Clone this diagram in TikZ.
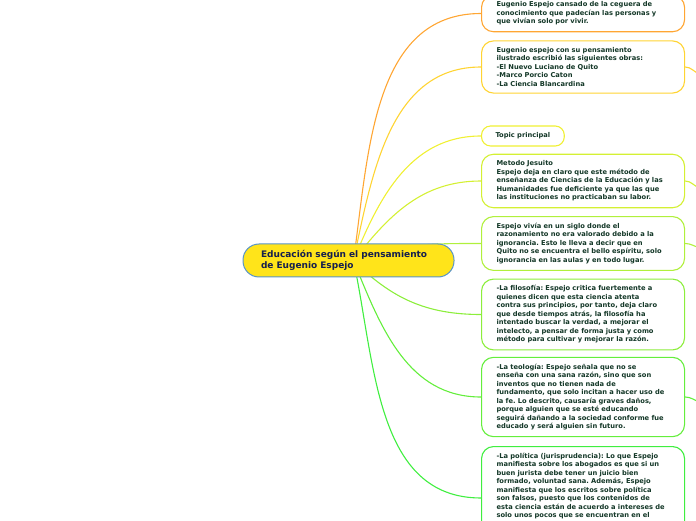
\documentclass[tikz,border=0pt]{standalone}
\usepackage{fontspec}
\setmainfont{DejaVu Sans}
\usetikzlibrary{positioning,backgrounds,calc}
\definecolor{txtgreen}{RGB}{20,56,40}
\definecolor{txtnavy} {RGB}{20,30,78}
\definecolor{cenfill} {RGB}{255,228,26}
\definecolor{cenline} {RGB}{88,148,200}
\definecolor{cOne}    {RGB}{255,166,51}
\definecolor{cTwo}    {RGB}{255,212,51}
\definecolor{cThree}  {RGB}{240,240,51}
\definecolor{cFour}   {RGB}{212,240,51}
\definecolor{cFive}   {RGB}{176,240,60}
\definecolor{cSix}    {RGB}{140,238,60}
\definecolor{cSeven}  {RGB}{100,238,60}
\definecolor{cEight}  {RGB}{64,238,64}
\tikzset{
  cenbox/.style ={draw=cenline, fill=cenfill, line width=1pt,
                  rounded corners=16pt, minimum width=211pt,
                  minimum height=33pt, text width=175pt, inner sep=0pt,
                  align=left, text=txtnavy,
                  font=\fontsize{9}{11}\selectfont\bfseries\frenchspacing},
  subbox/.style ={draw=#1, fill=white, line width=1.1pt,
                  rounded corners=12pt, text width=173pt,
                  inner xsep=15pt, inner ysep=6.5pt, align=left,
                  text=txtgreen, anchor=west,
                  font=\fontsize{6.7}{8.5}\selectfont\bfseries\frenchspacing},
  smallbox/.style={subbox=#1, text width=, rounded corners=9pt,
                  inner xsep=14pt, minimum height=20pt},
  link/.style   ={draw=#1, line width=1.1pt},
}
\begin{document}
\begin{tikzpicture}[x=1pt,y=1pt]
  \useasboundingbox (0,0) rectangle (696,520);
  \node[cenbox] (cen) at (348.5,259.5)
    {Educación según el pensamiento\\de Eugenio Espejo};
  \coordinate (o) at ($(cen.center)+(5,0)$);
  %% branches on the right
  \node[subbox=cOne] (cansado) at (481,506.5)
    {Eugenio Espejo cansado de la ceguera de\\
     conocimiento que padecían las personas y\\
     que vivían solo por vivir.};
  \node[subbox=cTwo] (obras) at (481,453)
    {Eugenio espejo con su pensamiento\\
     ilustrado escribió las siguientes obras:\\
     -El Nuevo Luciano de Quito\\
     -Marco Porcio Caton\\
     -La Ciencia Blancardina};
  \node[smallbox=cThree] (topic) at (481,384) {Topic principal};
  \node[subbox=cFour] (jesuito) at (481,339)
    {Metodo Jesuito\\
     Espejo deja en claro que este método de\\
     enseñanza de Ciencias de la Educación y las\\
     Humanidades fue deficiente ya que las que\\
     las instituciones no practicaban su labor.};
  \node[subbox=cFive] (vivia) at (481,276.5)
    {Espejo vivía en un siglo donde el\\
     razonamiento no era valorado debido a la\\
     ignorancia. Esto le lleva a decir que en\\
     Quito no se encuentra el bello espíritu, solo\\
     ignorancia en las aulas y en todo lugar.};
  \node[subbox=cSix] (filo) at (481,205.5)
    {-La filosofía: Espejo critica fuertemente a\\
     quienes dicen que esta ciencia atenta\\
     contra sus principios, por tanto, deja claro\\
     que desde tiempos atrás, la filosofía ha\\
     intentado buscar la verdad, a mejorar el\\
     intelecto, a pensar de forma justa y como\\
     método para cultivar y mejorar la razón.};
  \node[subbox=cSeven] (teo) at (481,123)
    {-La teología: Espejo señala que no se\\
     enseña con una sana razón, sino que son\\
     inventos que no tienen nada de\\
     fundamento, que solo incitan a hacer uso de\\
     la fe. Lo descrito, causaría graves daños,\\
     porque alguien que se esté educando\\
     seguirá dañando a la sociedad conforme fue\\
     educado y será alguien sin futuro.};
  \node[subbox=cEight, anchor=north west, text depth=90pt] (poli) at (481,74)
    {-La política (jurisprudencia): Lo que Espejo\\
     manifiesta sobre los abogados es que si un\\
     buen jurista debe tener un juicio bien\\
     formado, voluntad sana. Además, Espejo\\
     manifiesta que los escritos sobre política\\
     son falsos, puesto que los contenidos de\\
     esta ciencia están de acuerdo a intereses de\\
     solo unos pocos que se encuentran en el};
  \coordinate (poliin) at ($(poli.north west)+(0,-52)$);
  %% stubs leaving the page
  \coordinate (sobras) at (700,446);
  \coordinate (sjes)   at (700,332);
  \coordinate (sviv)   at (700,272);
  \coordinate (steo)   at (700,118);
  \begin{scope}[on background layer]
    \draw[link=cOne]   (o) to[out=82,in=180] (cansado.west);
    \draw[link=cTwo]   (o) to[out=78,in=180] (obras.west);
    \draw[link=cThree] (o) to[out=68,in=180] (topic.west);
    \draw[link=cFour]  (o) to[out=52,in=180] (jesuito.west);
    \draw[link=cFive]  (o) to[out=20,in=180] (vivia.west);
    \draw[link=cSix]   (o) to[out=-45,in=180] (filo.west);
    \draw[link=cSeven] (o) to[out=-68,in=180] (teo.west);
    \draw[link=cEight] (o) to[out=-78,in=180] (poliin);
    \draw[link=cTwo]   (obras.east) to[out=0,in=165] (sobras);
    \draw[link=cFour]  (jesuito.east) to[out=0,in=165] (sjes);
    \draw[link=cFive]  (vivia.east) to[out=0,in=165] (sviv);
    \draw[link=cSeven] (teo.east) to[out=0,in=165] (steo);
  \end{scope}
\end{tikzpicture}
\end{document}
